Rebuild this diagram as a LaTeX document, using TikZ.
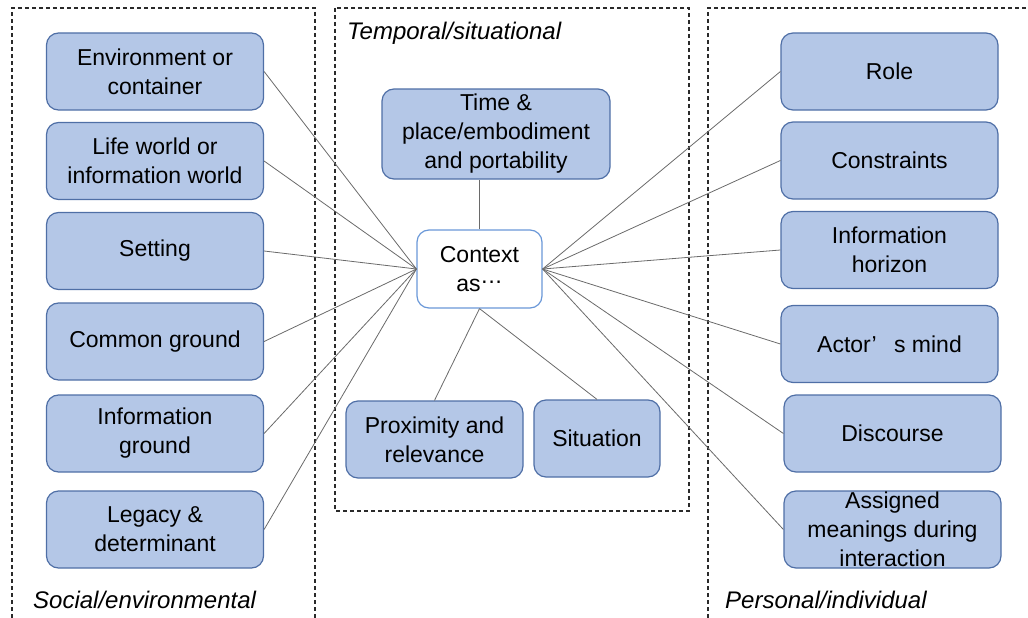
\documentclass[tikz,border=0pt]{standalone}
\usepackage{fontspec}
\setmainfont{Liberation Sans}
\definecolor{boxfill}{HTML}{B4C7E7}
\definecolor{boxdraw}{HTML}{4F6FA6}
\definecolor{ctxdraw}{HTML}{6A98D8}
\definecolor{linegray}{HTML}{6A6A6A}
\definecolor{framegray}{HTML}{2A2A2A}
\begin{document}
\begin{tikzpicture}[x=1pt,y=-1pt,
  box/.style={draw=boxdraw, fill=boxfill, line width=1.2pt, rounded corners=12pt,
    align=center, inner sep=0pt, minimum width=217pt, minimum height=77pt,
    font=\fontsize{23}{29}\selectfont, text=black},
  link/.style={draw=linegray, line width=0.8pt},
  frame/.style={draw=framegray, line width=1.2pt, dash pattern=on 4pt off 3pt},
  lab/.style={font=\fontsize{24}{29}\selectfont\itshape, anchor=west, inner sep=0pt, text=black}]
\useasboundingbox (0,0) rectangle (1028,618);
% frames
\draw[frame] (12,618) -- (12,8) -- (315,8) -- (315,618);
\draw[frame] (335,8) rectangle (689,511);
\draw[frame] (708,618) -- (708,8) -- (1028,8);
% labels
\node[lab] (tlab) at (347,33) {Temporal/situational};
\node[lab] (slab) at (33,600) {Social/environmental};
\node[lab] (plab) at (725,600) {Personal/individual};
% left boxes
\node[box] (env) at (155,71.5) {Environment or\\container};
\node[box] (life) at (155,161) {Life world or\\information world};
\node[box] (set) at (155,251) {Setting};
\node[box] (cg) at (155,341.5) {Common ground};
\node[box] (ig) at (155,433.5) {Information\\ground};
\node[box] (leg) at (155,529.5) {Legacy \&\\determinant};
% middle
\node[box, minimum width=228pt, minimum height=90pt] (time) at (496,134) {Time \&\\place/embodiment\\and portability};
\node[box, draw=ctxdraw, fill=white, minimum width=125pt, minimum height=78pt] (ctx) at (479.5,269) {Context\\as\raisebox{0.25ex}{\textperiodcentered\kern-0.5pt\textperiodcentered\kern-0.5pt\textperiodcentered}};
\node[box, minimum width=177pt] (prox) at (434.5,439.5) {Proximity and\\relevance};
\node[box, minimum width=126pt] (sit) at (597,438.5) {Situation};
% right boxes
\node[box] (role) at (889.5,71.5) {Role};
\node[box] (cons) at (889.5,160.5) {Constraints};
\node[box] (hor) at (889.5,250) {Information\\horizon};
\node[box] (mind) at (889.5,344) {Actor’\hspace{0.75em}s mind};
\node[box] (disc) at (892.5,433.5) {Discourse};
\node[box] (asg) at (892.5,529.5) {Assigned\\meanings during\\interaction};
% connectors
\foreach \n in {env,life,set,cg,ig,leg} \draw[link] (\n.east) -- (ctx.west);
\foreach \n in {role,cons,hor,mind,disc,asg} \draw[link] (ctx.east) -- (\n.west);
\draw[link] (ctx.north) -- (ctx.north |- time.south);
\draw[link] (ctx.south) -- (prox.north);
\draw[link] (ctx.south) -- (sit.north);
\end{tikzpicture}
\end{document}
